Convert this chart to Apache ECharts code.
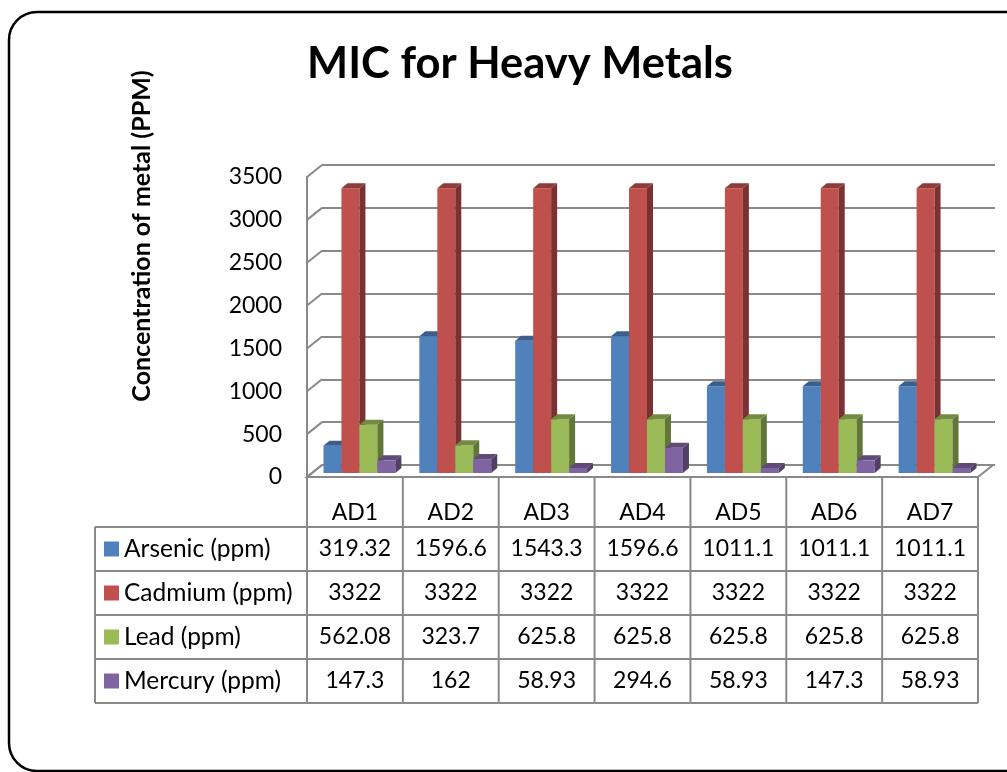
<!DOCTYPE html>
<html>
<head>
<meta charset="utf-8">
<script src="https://cdn.jsdelivr.net/npm/echarts@6/dist/echarts.min.js"></script>
<style>
  html, body { margin: 0; padding: 0; background: #fff; }
  #chart { width: 1007px; height: 772px; }
</style>
</head>
<body>
<div id="chart"></div>
<script>
// Samples and measured minimum inhibitory concentrations
const categories = ['AD1', 'AD2', 'AD3', 'AD4', 'AD5', 'AD6', 'AD7'];
const arsenic = [319.32, 1596.6, 1543.3, 1596.6, 1011.1, 1011.1, 1011.1];
const cadmium = [3322, 3322, 3322, 3322, 3322, 3322, 3322];
const lead = [562.08, 323.7, 625.8, 625.8, 625.8, 625.8, 625.8];
const mercury = [147.3, 162, 58.93, 294.6, 58.93, 147.3, 58.93];

const seriesNames = ['Arsenic (ppm)', 'Cadmium (ppm)', 'Lead (ppm)', 'Mercury (ppm)'];
const seriesValues = [arsenic, cadmium, lead, mercury];
const seriesColors = ['#4F81BD', '#C0504D', '#9BBB59', '#8064A2'];

const yMin = 0, yMax = 3500, yStep = 500;
const yTicks = [0, 500, 1000, 1500, 2000, 2500, 3000, 3500];

const FONT = 'Lato, "Open Sans", sans-serif';
const GRID_COLOR = '#898989';
// oblique depth of the plot box (front plane -> back wall)
const DEPTH_X = 15, DEPTH_Y = -12;
// bar placement inside the depth and the bars' own thickness
const BAR_SHIFT_X = 4.5, BAR_SHIFT_Y = -4;
const BAR_DX = 6, BAR_DY = -5;
// data table rows
const HEADER_H = 50, ROW_H = 44, TABLE_LEFT = 95;

const chart = echarts.init(document.getElementById('chart'));

// shade a colour towards black for the side and top faces of a column
function shade(hex, f) {
  const n = parseInt(hex.slice(1), 16);
  const r = Math.round(((n >> 16) & 255) * f);
  const g = Math.round(((n >> 8) & 255) * f);
  const b = Math.round((n & 255) * f);
  return 'rgb(' + r + ',' + g + ',' + b + ')';
}

function barSeries(idx) {
  const color = seriesColors[idx];
  const side = shade(color, 0.63);
  const topC = shade(color, 0.74);
  return {
    type: 'custom',
    name: seriesNames[idx],
    xAxisIndex: 1,
    yAxisIndex: 1,
    itemStyle: { color: color },
    z: 5,
    data: seriesValues[idx].map((v, i) => [i, v]),
    renderItem: function (params, api) {
      const i = api.value(0);
      const base = api.coord([i, 0]);
      const tip = api.coord([i, api.value(1)]);
      const band = api.size([1, 0])[0];
      const bw = band * 0.1875;
      const x = base[0] + BAR_SHIFT_X - 2 * bw + idx * bw;
      const yb = base[1] + BAR_SHIFT_Y;
      const yt = tip[1] + BAR_SHIFT_Y;
      return {
        type: 'group',
        children: [
          { type: 'rect', shape: { x: x, y: yt, width: bw, height: yb - yt },
            style: { fill: color } },
          { type: 'polygon', shape: { points: [
              [x + bw, yb], [x + bw + BAR_DX, yb + BAR_DY],
              [x + bw + BAR_DX, yt + BAR_DY], [x + bw, yt]] },
            style: { fill: side } },
          { type: 'polygon', shape: { points: [
              [x, yt], [x + BAR_DX, yt + BAR_DY],
              [x + bw + BAR_DX, yt + BAR_DY], [x + bw, yt]] },
            style: { fill: topC } }
        ]
      };
    }
  };
}

// floor of the 3D box
const floorSeries = {
  type: 'custom',
  xAxisIndex: 1, yAxisIndex: 1,
  silent: true,
  z: 2,
  data: [[0]],
  renderItem: function (params, api) {
    const cs = params.coordSys;
    const y0 = api.coord([0, yMin])[1];
    const x0 = cs.x, x1 = cs.x + cs.width;
    return {
      type: 'polygon',
      shape: { points: [[x0, y0], [x1, y0], [x1 + DEPTH_X, y0 + DEPTH_Y], [x0 + DEPTH_X, y0 + DEPTH_Y]] },
      style: { fill: '#fff', stroke: GRID_COLOR, lineWidth: 2 }
    };
  }
};

// left side wall: tick connectors between the front axis and the back wall
const sideWallSeries = {
  type: 'custom',
  xAxisIndex: 1, yAxisIndex: 1,
  silent: true,
  z: 3,
  data: yTicks.map(t => [0, t]),
  renderItem: function (params, api) {
    const cs = params.coordSys;
    const y = api.coord([0, api.value(1)])[1];
    return {
      type: 'line',
      shape: { x1: cs.x, y1: y, x2: cs.x + DEPTH_X, y2: y + DEPTH_Y },
      style: { stroke: GRID_COLOR, lineWidth: 2 }
    };
  }
};

// data table under the plot, one column per category
const tableSeries = {
  type: 'custom',
  xAxisIndex: 1, yAxisIndex: 1,
  silent: true,
  z: 4,
  data: categories.map((c, i) => [i]),
  renderItem: function (params, api) {
    const i = api.value(0);
    const cx = api.coord([i, 0])[0];
    const y0 = api.coord([i, yMin])[1];
    const band = api.size([1, 0])[0];
    const left = cx - band / 2, right = cx + band / 2;
    const yEnd = y0 + HEADER_H + ROW_H * seriesNames.length;
    const line = (x1, y1, x2, y2) => ({
      type: 'line', shape: { x1, y1, x2, y2 },
      style: { stroke: GRID_COLOR, lineWidth: 2 }
    });
    const children = [];
    children.push(line(left, y0, left, yEnd));
    if (i === categories.length - 1) children.push(line(right, y0, right, yEnd));
    const hLeft = i === 0 ? TABLE_LEFT : left;
    for (let r = 0; r <= seriesNames.length; r++) {
      const y = y0 + HEADER_H + ROW_H * r;
      children.push(line(hLeft, y, right, y));
    }
    if (i === 0) children.push(line(TABLE_LEFT, y0 + HEADER_H, TABLE_LEFT, yEnd));
    children.push({
      type: 'text',
      style: { text: categories[i], x: cx, y: y0 + HEADER_H - 14, align: 'center',
        verticalAlign: 'middle', font: '23px ' + FONT, fill: '#000' }
    });
    seriesValues.forEach((arr, r) => {
      children.push({
        type: 'text',
        style: { text: String(arr[i]), x: cx, y: y0 + HEADER_H + ROW_H * r + ROW_H / 2,
          align: 'center', verticalAlign: 'middle', font: '23px ' + FONT, fill: '#000' }
      });
    });
    return { type: 'group', children: children };
  }
};

const option = {
  backgroundColor: '#fff',
  animation: false,
  title: {
    text: 'MIC for Heavy Metals',
    left: 515,
    top: 37,
    textAlign: 'center',
    textStyle: { fontFamily: FONT, fontWeight: 'bold', fontSize: 43.5, color: '#000' }
  },
  legend: {
    orient: 'vertical',
    left: 104,
    top: 527,
    padding: 0,
    itemGap: 0,
    itemWidth: 15,
    itemHeight: 15,
    icon: 'rect',
    selectedMode: false,
    data: seriesNames,
    textStyle: { fontFamily: FONT, fontSize: 24.5, color: '#000', lineHeight: 44 }
  },
  graphic: [
    {
      type: 'rect', z: -10, silent: true,
      shape: { x: 9, y: 12, width: 1040, height: 759, r: 28 },
      style: { fill: 'none', stroke: '#000', lineWidth: 2.5 }
    },
    {
      type: 'text', silent: true,
      x: 142, y: 236, rotation: Math.PI / 2,
      style: { text: 'Concentration of metal (PPM)', align: 'center', verticalAlign: 'middle',
        font: 'bold 25px ' + FONT, fill: '#000' }
    }
  ],
  grid: [
    { left: 322, top: 165, width: 673, height: 300 },   // back wall
    { left: 307, top: 177, width: 671, height: 300 }    // front plane
  ],
  xAxis: [
    { type: 'category', gridIndex: 0, data: categories, show: false },
    { type: 'category', gridIndex: 1, data: categories, boundaryGap: true,
      axisLine: { show: false }, axisTick: { show: false }, axisLabel: { show: false } }
  ],
  yAxis: [
    { type: 'value', gridIndex: 0, min: yMin, max: yMax, interval: yStep,
      axisLine: { show: false }, axisTick: { show: false }, axisLabel: { show: false },
      splitLine: { show: true, lineStyle: { color: GRID_COLOR, width: 2 } } },
    { type: 'value', gridIndex: 1, min: yMin, max: yMax, interval: yStep,
      axisLine: { show: true, lineStyle: { color: GRID_COLOR, width: 2 } },
      axisTick: { show: false },
      splitLine: { show: false },
      axisLabel: { margin: 25, fontFamily: FONT, fontSize: 23, color: '#000',
        formatter: v => String(v) } }
  ],
  series: [floorSeries, sideWallSeries, tableSeries,
    barSeries(0), barSeries(1), barSeries(2), barSeries(3)]
};

chart.setOption(option);
</script>
</body>
</html>
